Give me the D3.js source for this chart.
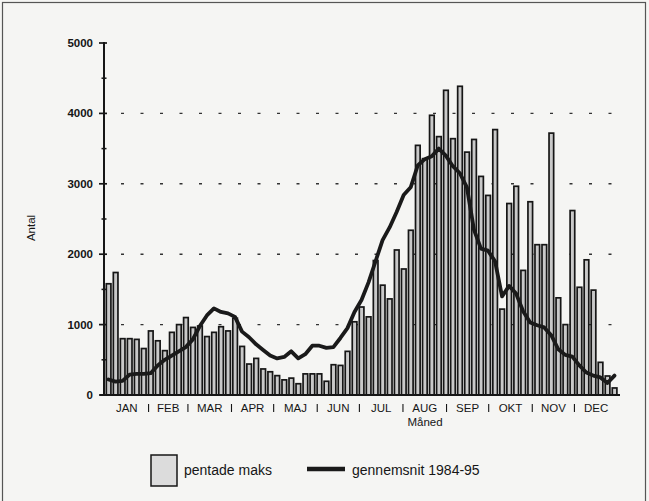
<!DOCTYPE html>
<html>
<head>
    <meta charset="utf-8" />
    <title>Pentade maks</title>
    <script src="https://d3js.org/d3.v7.min.js" charset="utf-8"></script>
    <style>
        body { margin: 0; background: #fff; }
        text { font-family: "Liberation Sans", Arial, sans-serif; fill: #161616; }
    </style>
</head>
<body>
<svg id="chart" width="649" height="501"></svg>
<script>

// maaneder en dage pr maaned
var months = ["JAN", "FEB", "MAR", "APR", "MAJ", "JUN", "JUL", "AUG", "SEP", "OKT", "NOV", "DEC"];
var monthDays = [31, 28, 31, 30, 31, 30, 31, 31, 30, 31, 30, 31];

// pentade maks (73 pentader)
var pentadMax = [
    1580, 1740, 800, 800, 790, 660, 910, 770, 630, 890, 1000, 1100, 960,
    980, 830, 890, 970, 910, 1090, 690, 440, 520, 370, 330, 275, 215,
    240, 160, 300, 300, 300, 195, 430, 420, 620, 1040, 1250, 1110, 1910,
    1560, 1365, 2060, 1790, 2340, 3546, 3357, 3973, 3670, 4328, 3641, 4385,
    3450, 3630, 3105, 2835, 3770, 1220, 2720, 2965, 1770, 2745, 2135, 2135,
    3720, 1380, 1000, 2620, 1530, 1920, 1490, 464, 270, 100
];

// gennemsnit 1984-95
var average = [
    220, 190, 200, 290, 300, 300, 310, 420, 500, 560, 620, 680, 790,
    980, 1130, 1230, 1180, 1160, 1110, 900, 820, 720, 640, 560, 520, 540,
    620, 520, 580, 700, 700, 670, 680, 810, 950, 1180, 1350, 1600, 1900,
    2200, 2380, 2600, 2840, 2950, 3260, 3350, 3390, 3500, 3400, 3250, 3150,
    2950, 2350, 2080, 2050, 1900, 1400, 1550, 1440, 1190, 1030, 990, 960,
    850, 650, 570, 545, 420, 320, 275, 250, 170, 275
];

var yTicks = [0, 1000, 2000, 3000, 4000, 5000];
var yMinor = [500, 1500, 2500, 3500, 4500];
var gridTicks = [1000, 2000, 3000, 4000];

var svg = d3.select("#chart");

// papir baggrund + ramme
svg.append("rect")
    .attr("x", 0).attr("y", 0).attr("width", 649).attr("height", 501)
    .attr("fill", "#f5f5f3");
svg.append("rect")
    .attr("x", 2.5).attr("y", 2.5).attr("width", 643).attr("height", 500)
    .attr("fill", "none").attr("stroke", "#555").attr("stroke-width", 1.2);

var scaleX = d3.scaleLinear().domain([0, 365]).range([105, 618]),
    scaleY = d3.scaleLinear().domain([0, 5000]).range([395, 43]);

// stiplet gitter
svg.append("g").selectAll("line")
    .data(gridTicks)
    .enter().append("line")
    .attr("x1", 121).attr("x2", 620)
    .attr("y1", function (d) { return scaleY(d); })
    .attr("y2", function (d) { return scaleY(d); })
    .attr("stroke", "#333")
    .attr("stroke-width", 1.4)
    .attr("stroke-dasharray", "3,16.5");

// soejler
svg.append("g").selectAll("rect")
    .data(pentadMax)
    .enter().append("rect")
    .attr("x", function (d, i) { return scaleX(i * 5) + 1.3; })
    .attr("y", function (d) { return scaleY(d); })
    .attr("width", function (d, i) { return scaleX(i * 5 + 5) - scaleX(i * 5) - 2.4; })
    .attr("height", function (d) { return scaleY(0) - scaleY(d); })
    .attr("fill", "#c9c9c9")
    .attr("stroke", "#161616")
    .attr("stroke-width", 1.7);

// gennemsnitslinje
var avgLine = d3.line()
    .x(function (d, i) { return scaleX(i * 5 + 2.5); })
    .y(function (d) { return scaleY(d); });

svg.append("path")
    .datum(average)
    .attr("d", avgLine)
    .attr("fill", "none")
    .attr("stroke", "#1a1a1a")
    .attr("stroke-width", 3.8)
    .attr("stroke-linejoin", "round")
    .attr("stroke-linecap", "round");

// y akse
var yAxis = svg.append("g");
yAxis.append("line")
    .attr("x1", 104).attr("x2", 104)
    .attr("y1", scaleY(5000) - 1).attr("y2", scaleY(0))
    .attr("stroke", "#161616").attr("stroke-width", 2);
yAxis.selectAll(".major")
    .data(yTicks)
    .enter().append("line")
    .attr("x1", 99).attr("x2", 107)
    .attr("y1", function (d) { return scaleY(d); })
    .attr("y2", function (d) { return scaleY(d); })
    .attr("stroke", "#161616").attr("stroke-width", 1.7);
yAxis.selectAll(".minor")
    .data(yMinor)
    .enter().append("line")
    .attr("x1", 101.5).attr("x2", 106.5)
    .attr("y1", function (d) { return scaleY(d); })
    .attr("y2", function (d) { return scaleY(d); })
    .attr("stroke", "#161616").attr("stroke-width", 1.5);
yAxis.selectAll("text")
    .data(yTicks)
    .enter().append("text")
    .attr("x", 93)
    .attr("y", function (d) { return scaleY(d) + 4; })
    .attr("text-anchor", "end")
    .attr("font-size", 11.5)
    .attr("font-weight", 600)
    .text(function (d) { return d; });

// x akse
svg.append("line")
    .attr("x1", 100).attr("x2", 620)
    .attr("y1", 395).attr("y2", 395)
    .attr("stroke", "#161616").attr("stroke-width", 2.2);

var monthStart = [0];
monthDays.forEach(function (d, i) { monthStart.push(monthStart[i] + d); });

svg.append("g").selectAll("text")
    .data(months)
    .enter().append("text")
    .attr("x", function (d, i) { return scaleX((monthStart[i] + monthStart[i + 1]) / 2); })
    .attr("y", 412)
    .attr("text-anchor", "middle")
    .attr("font-size", 11.5)
    .text(function (d) { return d; });

// skillestreger mellem maaneder
svg.append("g").selectAll("line")
    .data(monthStart.slice(1, 12))
    .enter().append("line")
    .attr("x1", function (d) { return scaleX(d); })
    .attr("x2", function (d) { return scaleX(d); })
    .attr("y1", 404).attr("y2", 412)
    .attr("stroke", "#161616").attr("stroke-width", 1.1);

svg.append("text")
    .attr("x", 425).attr("y", 426)
    .attr("text-anchor", "middle")
    .attr("font-size", 11.5)
    .text("Måned");

svg.append("text")
    .attr("transform", "translate(35,228) rotate(-90)")
    .attr("text-anchor", "middle")
    .attr("font-size", 11.5)
    .text("Antal");

// legende
svg.append("rect")
    .attr("x", 151).attr("y", 455).attr("width", 26).attr("height", 31)
    .attr("fill", "#dcdcdc").attr("stroke", "#161616").attr("stroke-width", 1.5);
svg.append("text")
    .attr("x", 184).attr("y", 475)
    .attr("font-size", 14)
    .text("pentade maks");
svg.append("line")
    .attr("x1", 307).attr("x2", 345)
    .attr("y1", 469).attr("y2", 469)
    .attr("stroke", "#1a1a1a").attr("stroke-width", 4.5);
svg.append("text")
    .attr("x", 352).attr("y", 475)
    .attr("font-size", 14)
    .text("gennemsnit 1984-95");

</script>
</body>
</html>
